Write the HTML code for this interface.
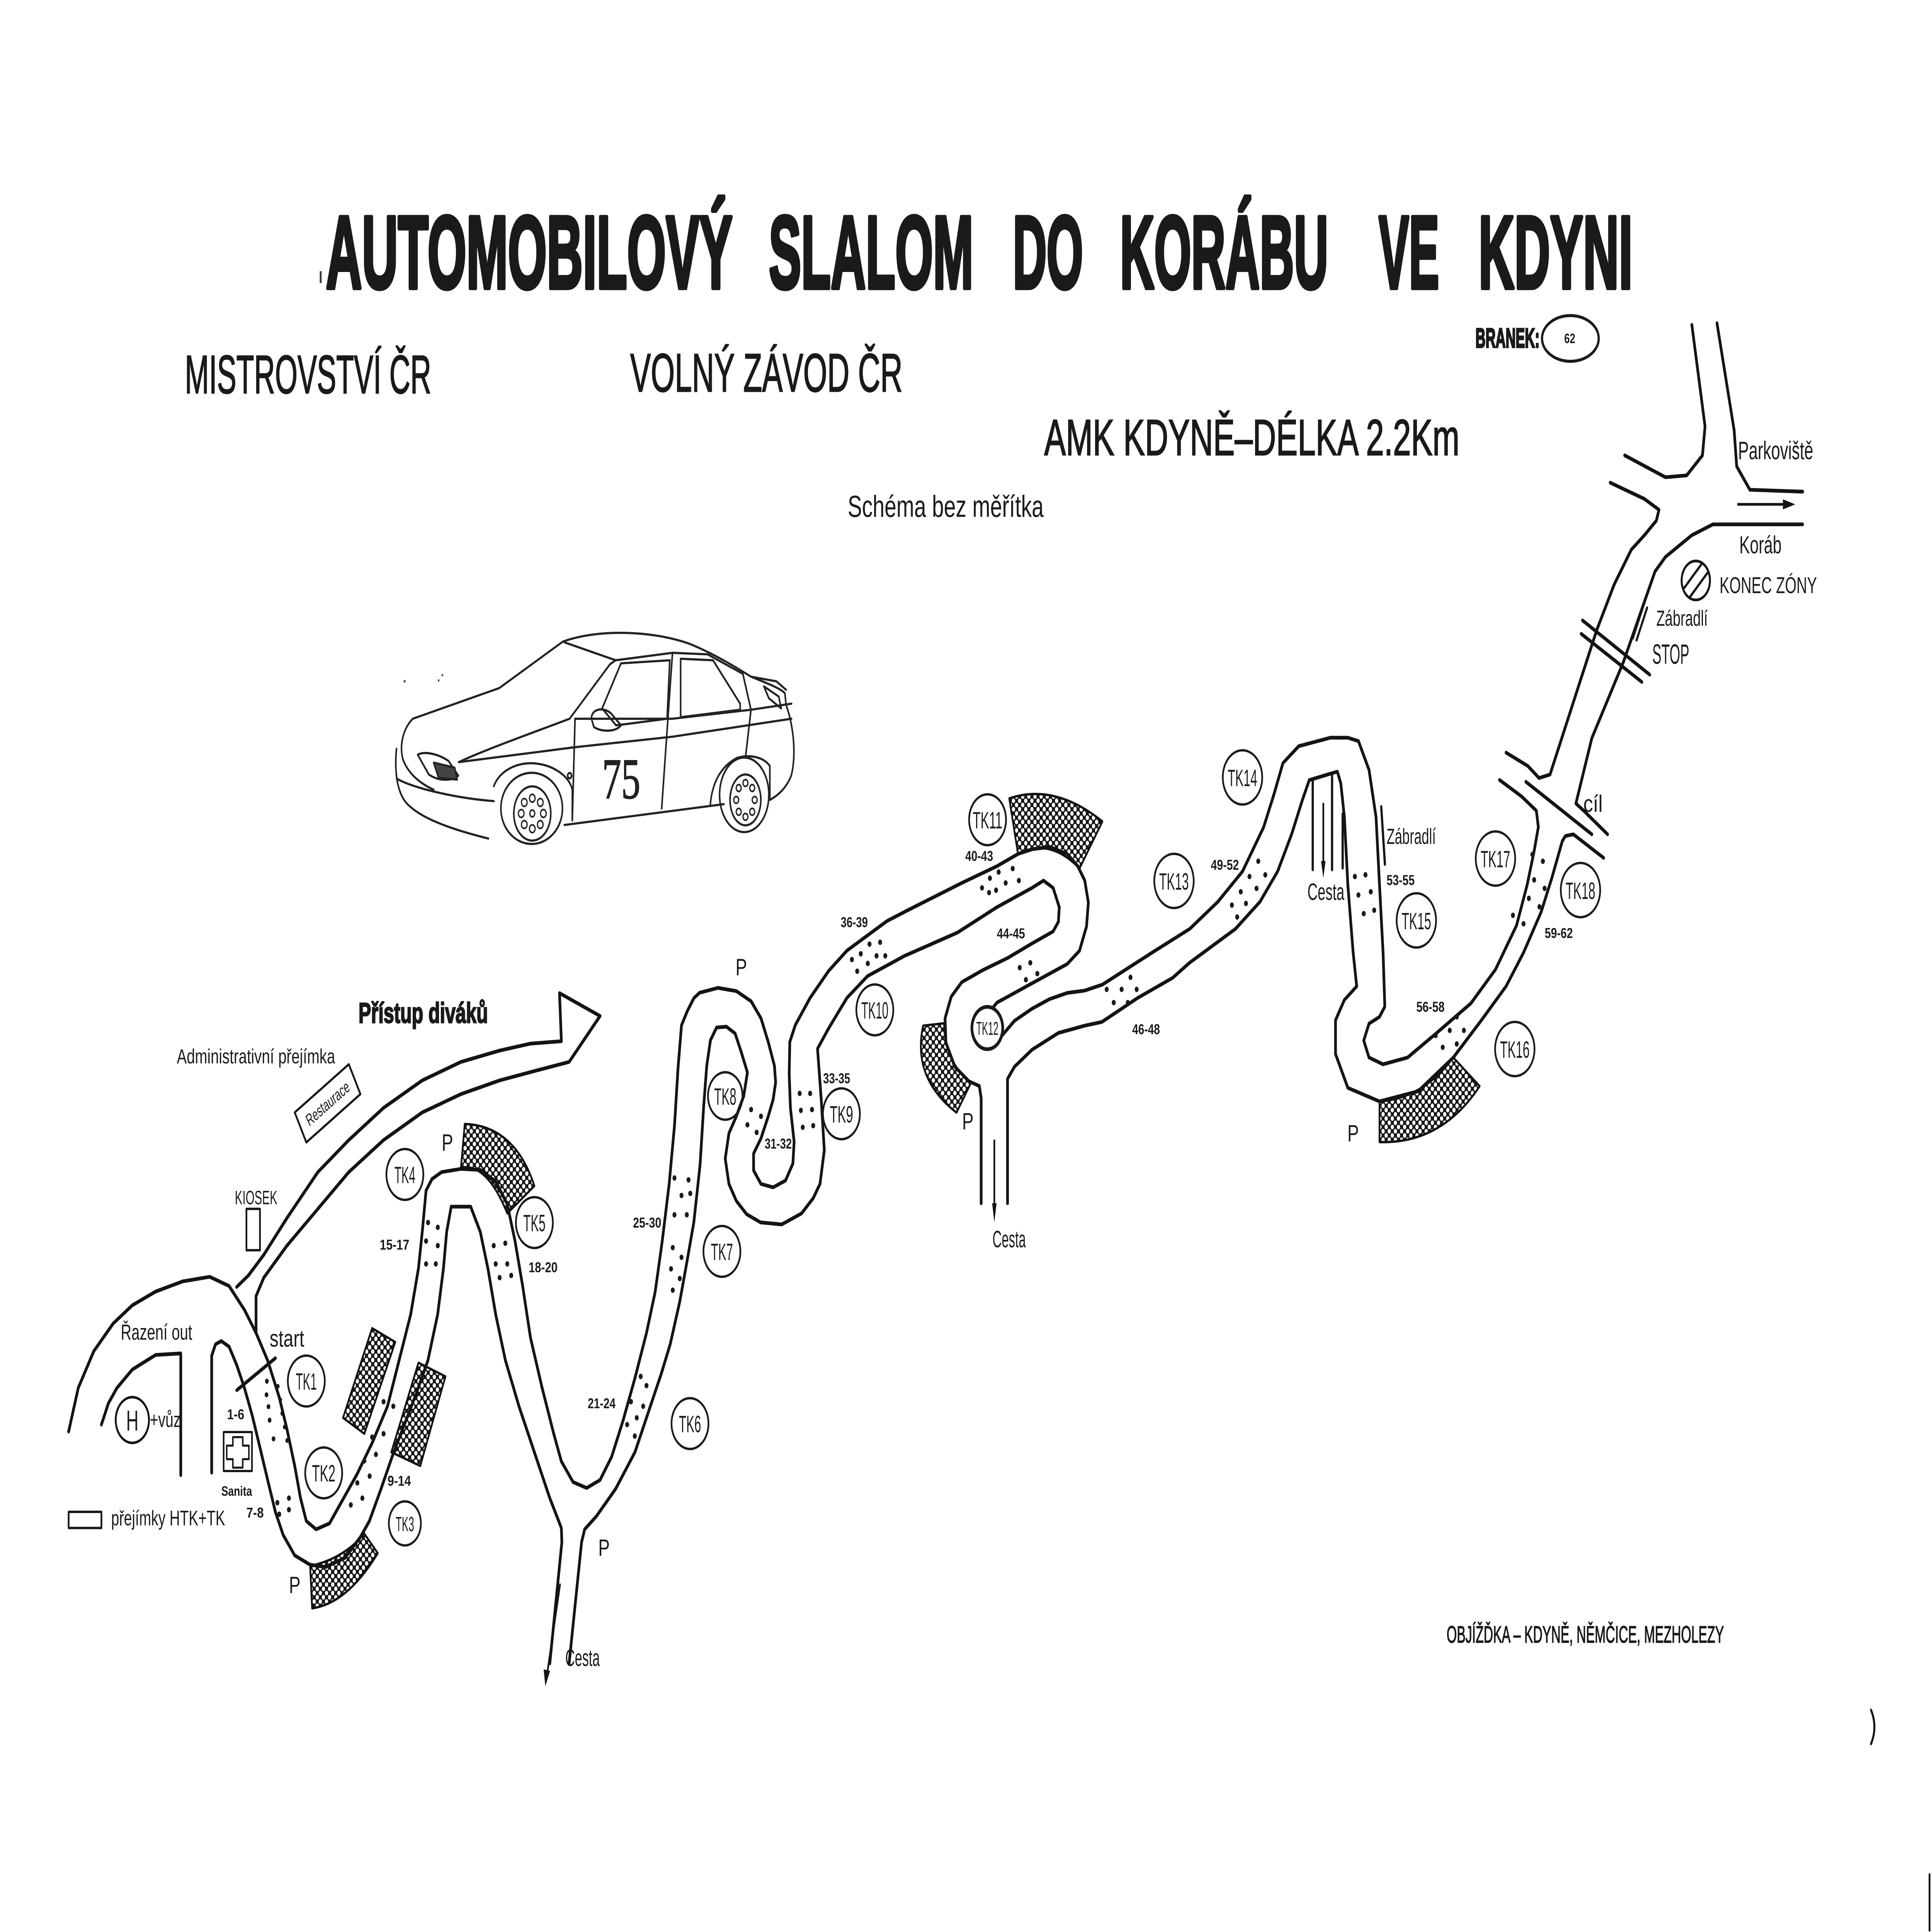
<!DOCTYPE html>
<html>
<head>
<meta charset="utf-8">
<style>
html,body{margin:0;padding:0;background:#fff;width:100%;height:100%;overflow:hidden}
svg{display:block;position:absolute;left:0;top:0;width:100vw;height:100vh}
</style>
</head>
<body>
<svg xmlns="http://www.w3.org/2000/svg" width="7014" height="5100" viewBox="0 0 1568 1140" preserveAspectRatio="none">
<defs>
<pattern id="h" width="5" height="5" patternUnits="userSpaceOnUse">
<rect width="5" height="5" fill="#141414"/>
<circle cx="0" cy="0" r="1.35" fill="#fff"/><circle cx="5" cy="0" r="1.35" fill="#fff"/>
<circle cx="0" cy="5" r="1.35" fill="#fff"/><circle cx="5" cy="5" r="1.35" fill="#fff"/>
<circle cx="2.5" cy="2.5" r="1.35" fill="#fff"/>
</pattern>
<style>
.t{font-family:"Liberation Sans","DejaVu Sans",sans-serif;fill:#1a1a1a}
.tk{font-size:14px;text-anchor:middle}
.g{font-size:8.5px;font-weight:bold}
.p{font-size:14px;text-anchor:middle}
</style>
</defs>
<rect width="1568" height="1140" fill="#fff"/>

<!-- ============ TITLES ============ -->
<g class="t" font-weight="bold" font-size="61" stroke="#1a1a1a" stroke-width="2.4" stroke-linejoin="round">
<text x="264.5" y="170" textLength="330" lengthAdjust="spacingAndGlyphs">AUTOMOBILOVÝ</text>
<text x="624" y="170" textLength="166" lengthAdjust="spacingAndGlyphs">SLALOM</text>
<text x="822" y="170" textLength="57" lengthAdjust="spacingAndGlyphs">DO</text>
<text x="909" y="170" textLength="169" lengthAdjust="spacingAndGlyphs">KORÁBU</text>
<text x="1119" y="170" textLength="49" lengthAdjust="spacingAndGlyphs">VE</text>
<text x="1200" y="170" textLength="125" lengthAdjust="spacingAndGlyphs">KDYNI</text>
</g>
<rect x="259.5" y="160" width="1.5" height="7" fill="#333"/>

<g class="t" stroke="#1a1a1a" stroke-width="0.6">
<text x="150" y="232" font-size="32" textLength="200" lengthAdjust="spacingAndGlyphs">MISTROVSTVÍ ČR</text>
<text x="511.5" y="231" font-size="32" textLength="221" lengthAdjust="spacingAndGlyphs">VOLNÝ ZÁVOD ČR</text>
<text x="847.5" y="268.5" font-size="30" textLength="337" lengthAdjust="spacingAndGlyphs">AMK KDYNĚ–DÉLKA 2.2Km</text>
</g>
<text class="t" x="688" y="305" font-size="18" textLength="159" lengthAdjust="spacingAndGlyphs">Schéma bez měřítka</text>

<text class="t" x="1197.5" y="205" font-size="16" font-weight="bold" stroke="#1a1a1a" stroke-width="0.9" textLength="52" lengthAdjust="spacingAndGlyphs">BRANEK:</text>
<ellipse cx="1274.5" cy="199.7" rx="23" ry="13.5" fill="none" stroke="#1a1a1a" stroke-width="1.8"/>
<text class="t" x="1274" y="202.5" font-size="8" font-weight="bold" text-anchor="middle">62</text>

<!-- ============ CAR ============ -->
<g fill="none" stroke="#222" stroke-width="1.3" stroke-linejoin="round" stroke-linecap="round">
<path d="M405.2,406 L456.8,378.6 C485,371 530,372 560,380 C580,386 598,394 609.5,399.3 C622,403 633,406 637,409 L638,416"/>
<path d="M638,416 C645,430 646,448 642,458 C638,465 632,469 625,472"/>
<path d="M458,379 L499.7,389.6 L495,392 L462.3,424.1"/>
<path d="M405.2,406 L335,424.1 C327,430 324,440 327,448 C331,456 340,462 352,466"/>
<path d="M462.3,424.1 C430,433 395,442 372.3,449.7"/>
<path d="M372.3,449.7 L466.7,440.9 L545.8,434.7 L642.4,424.1"/>
<path d="M466.7,424.1 L545.8,424.1 L609.5,418.8 L642.4,415.2"/>
<path d="M321.8,441.8 C320,455 322,470 333,476 C345,484 370,490 396.4,494.8"/>
<path d="M321.8,459.4 C335,465 370,471 400.8,472.7"/>
<path d="M339,445.3 C345,443 356,445 364,449 L372,457.7 C366,461 356,461 348,457 Z"/>
<path d="M352,450 L369,453 L371,460 L356,459 Z" fill="#444"/>
<path d="M400.8,463.9 C405,455 420,449 436,450.6 C450,452 462,458 464.5,466 L464.5,484.2"/>
<path d="M458,486.8 L587.5,474.5"/>
<path d="M576.5,474.5 C578,462 585,452 598.5,447.1 C610,445 620,447 624.8,452 L624.8,471.8"/>
<path d="M466.7,424.1 L464.5,483.3 M545.8,385.2 L537,477.1 M609.5,418.8 L605,447.1"/>
<path d="M499.7,389.6 L545.8,385.2 L574.3,386.1 L602.9,397.6 L609.5,418.8"/>
<path d="M504,391.4 L543.6,389.6 L541.4,424.1 L500,428 L488.7,418 Z"/>
<path d="M552.4,388.7 L578.7,389.6 L600.7,415.2 L600.7,418.8 L552.4,423.2 Z"/>
<path d="M480,424 C480,418 490,417 496,421 L504,428 C500,432 488,432 482,429 Z"/>
<path d="M609.5,399.3 L630,402 L638,407 M620,405 L632,411 L634,418 L624,412 Z"/>
<circle cx="462.3" cy="457.7" r="1.6"/>
<ellipse cx="431.5" cy="477" rx="25" ry="21"/>
<ellipse cx="432" cy="480" rx="15" ry="16"/>
<ellipse cx="604" cy="469" rx="20" ry="22"/>
<ellipse cx="605" cy="472" rx="12.5" ry="15"/>
<g stroke-width="1">
<circle cx="432" cy="471" r="2.3"/><circle cx="438.5" cy="473.5" r="2.3"/><circle cx="441" cy="480" r="2.3"/><circle cx="438.5" cy="486.5" r="2.3"/><circle cx="432" cy="489" r="2.3"/><circle cx="425.5" cy="486.5" r="2.3"/><circle cx="423" cy="480" r="2.3"/><circle cx="425.5" cy="473.5" r="2.3"/><circle cx="432" cy="480" r="2"/>
<circle cx="605" cy="462" r="2"/><circle cx="610.5" cy="465" r="2"/><circle cx="612.5" cy="472" r="2"/><circle cx="610.5" cy="479" r="2"/><circle cx="605" cy="482" r="2"/><circle cx="599.5" cy="479" r="2"/><circle cx="597.5" cy="472" r="2"/><circle cx="599.5" cy="465" r="2"/>
</g>
</g>
<text x="488.7" y="471" font-family="'Liberation Serif','DejaVu Serif',serif" font-size="34" fill="#222" stroke="#222" stroke-width="0.5" textLength="31" lengthAdjust="spacingAndGlyphs">75</text>
<circle cx="328.4" cy="402" r="0.8" fill="#444"/><circle cx="359" cy="398.4" r="0.7" fill="#444"/><circle cx="356" cy="401.5" r="0.7" fill="#444"/>

<!-- ============ HATCHED AREAS ============ -->
<g fill="url(#h)" stroke="#111" stroke-width="1.4" stroke-linejoin="round">
<path d="M251.7,924 L253.3,949 Q282,946 306.6,916.5 L295.7,905 Q278,920 251.7,924 Z"/>
<path d="M374.1,689 Q395,686 411.7,716 L433.7,699.8 C425,680 408,664 377.2,663.2 Z"/>
<path d="M278.4,836.6 L295.7,846 L320.8,791.9 L302,783.7 Z"/>
<path d="M317.6,856.9 L341.1,865 L361.5,812.2 L339.6,804.1 Z"/>
<path d="M819.1,471.1 Q856,462 894.7,484.7 L876.1,512.5 Q852,494 826.2,503.9 Z"/>
<path d="M749.2,605.2 Q740,636 776.3,656.5 L787.7,639.4 Q766,625 766.3,603.8 Z"/>
<path d="M1119.6,673.9 Q1170,675 1200.9,640.9 L1179.5,624 Q1155,648 1119.6,649.9 Z"/>
</g>

<!-- ============ ROADS ============ -->
<g fill="none" stroke="#141414" stroke-width="2.2" stroke-linejoin="round" stroke-linecap="round">
<path d="M55.7,844.7 L63.5,819 L76.1,797.3 L91.8,781 L107.4,770.2 L126.3,762.1 L148.2,756.1 L170.2,753.4 L185.9,758.8 L198.4,772.9 L207.8,786.5 L217.2,802.7 L226.6,824.4 L232.9,843.3 L239.2,865 L243.9,884 L248.6,897.5 L256.5,902.4 L267.4,898.9 L276.8,886.7 L289.4,870.4 L302,851.5 L314.5,829.8 L323.9,802.7 L333.3,775.6 L339.6,748.5 L342.7,726.9 L345.8,702.5 L350.6,695.7 L358.4,691.6 L374.1,689.7 L389.8,690.3 L402.3,697.1 L411.7,710.6 L418,732.3 L424.3,759.4 L430.5,789.2 L440,819 L449.4,846 L455.6,862.3 L465.1,874.5 L476.1,878 L487,873.3 L496.4,859.6 L505.8,837.9 L515.2,813.5 L524.7,786.5 L531.7,762.4 L537.4,732.7 L543.1,698.5 L547.4,664.3 L550.3,630.1 L553.1,605 L557.7,596.8 L563.1,589 L567.7,585.8 L582.6,582.9 L597.6,584.8 L609.6,590.8 L617.6,600.8 L623.5,614.8 L628.5,628.8 L629.5,638.7 L627.5,648.7 L623.5,658.7 L617.6,671.7 L611.6,680.7 L611.6,690.6 L617.6,698.6 L627.5,700.6 L637.5,696.6 L643.5,686.6 L644.5,673.7 L641.5,653.7 L640.5,633.7 L641,614.8 L645.5,604.8 L657.5,588.8 L672.5,572.9 L687.4,560.9 L720,543.4 L737.8,536.7 L780.6,521 L809.1,511.1 L826.2,503.9 L837.6,501.1 L851.9,499.7 L866.2,503.9 L874.7,511.1 L880.4,519.6 L883.3,532.5 L881.8,546.7 L876.1,561 L866.2,568.8 L851.9,574.5 L837.6,580.2 L823.4,585.9 L809.1,591.6 L806,594.5"/>
<path d="M813.4,610.9 L823.4,602.3 L837.6,595.2 L851.9,589.5 L866.2,585.9 L880.4,584.5 L894.7,581 L916,571 L937.4,561 L965.6,548.1 L988.4,532.1 L1008.4,514.2 L1025.5,488.2 L1034.1,468.3 L1041.2,450.3 L1054,440.3 L1079.7,435.3 L1093.9,435.3 L1102.5,437.3 L1111.1,454.3 L1116.8,482.2 L1119.6,522.2 L1122.5,562.1 L1123.9,594 L1119.6,600 L1111.1,604 L1106.8,614 L1111.1,624 L1122.5,628 L1142.4,624 L1165.2,610 L1193.8,592 L1213.7,572.1 L1230.8,546.1 L1239.4,522.2 L1245.1,502.2 L1248.5,488"/>
<path d="M1222.3,444.1 L1240,452 L1249.1,459.1 L1258,457 L1270,430 L1283.3,400 L1296.1,371.4 L1310,345 L1323.9,324.4 L1334.6,315.8 L1344.3,307.2 L1346.4,300.8 L1334.6,294.4 L1306.8,284.8"/>
<path d="M1217,460.2 L1235,470 L1246.9,478.4 L1248.5,488"/>
<path d="M171.8,869 L171.8,800 L174.9,793.2 L179.6,791.3 L185.9,794.6 L192.1,805.4 L198.4,819 L204.7,835.2 L211,854.2 L217.2,873.2 L223.5,892.1 L229.8,905.7 L239.2,917.8 L251.7,923.3 L264.3,924.6 L280,919.2 L292.5,907 L299.8,897.5 L309.2,878.6 L319,858 L328.5,840 L338,822 L347.3,802.7 L355.2,775.6 L359.9,748.5 L362.5,726.9 L366.2,712 L382,712 L389.8,726.9 L396,748.5 L402.3,775.6 L410.2,802.7 L421.2,829.8 L433.7,856.9 L446.2,884 L455.6,901.6 L456,910 L446.2,981.5"/>
<path d="M461.9,981.5 L472,910 L474.5,902.4 L483.9,894.8 L499.6,878.6 L515.3,856.9 L527.8,829.8 L536.6,810.8 L544,793 L551.7,768 L557.4,745 L563.1,721.3 L568.2,687.1 L571.1,652.9 L573.6,628.8 L576.6,613.8 L581.6,606.3 L589.6,605.8 L596.6,609.8 L601.6,620.8 L606.6,632.8 L603.6,646.7 L597.6,658.7 L591.6,668.7 L588.6,683.7 L591.6,698.6 L597.6,708.6 L606,716.5 L617.3,721.3 L634.4,722.5 L650.5,716 L660,707 L665.5,698.6 L669,678.7 L666.5,648.7 L663.5,618.8 L672.5,606.8 L687.4,588.8 L704.2,575.9 L734.2,564 L777,550.3 L809.1,535.3 L837.6,523.9 L846.9,519.6 L854.7,523.9 L859.7,535.3 L859,543.9 L854.7,549.6 L837.6,556.7 L817.7,565.3 L797.7,572.4 L780.6,579.5 L772,588.1 L767,600.9 L767.7,615.2 L774.9,629.4 L786.3,638 L794.8,640.8 L796.3,648 L796.3,710"/>
<path d="M817.7,710 L817.7,636.6 L823.4,629.4 L837.6,619.4 L859,609.5 L880.4,605.2 L894.3,603 L923,589 L951.7,577 L965.6,568 L1002.7,548.1 L1022.6,532.1 L1036.9,514.2 L1048.3,492.2 L1056.9,472.3 L1062.6,460.3 L1085.4,455.3 L1088.2,462.3 L1091.1,482.2 L1093.9,522.2 L1098.2,562.1 L1101.1,582 L1091.1,590 L1083.9,602 L1083.9,621.9 L1093.9,641.9 L1119.6,649.9 L1151,643.9 L1179.5,624 L1202.3,602 L1222.3,582 L1236.5,562.1 L1250.8,538.1 L1259.4,518.2 L1268,496.2 L1270.5,493.3 L1276.9,492.3 L1301.5,506.2"/>
<path d="M1304.7,492.3 L1285.4,478.4 L1279,474.1 L1291.9,435.6 L1317.5,390.7 L1343.2,337.2 L1351.7,328.6 L1373.1,315.8 L1390.2,309.4 L1463,309.4"/>
<path d="M1318.6,268.7 L1351.7,281.6 L1368.9,280.5 L1381.7,268.7 L1383.8,251.6 L1373.1,191.7"/>
<path d="M1393.5,190.7 L1407.4,253.8 L1409.5,275.2 L1420.2,289 L1463,290.1"/>
<path d="M82.3,840.6 L88,828 L94.9,819 L107.4,808.1 L126.3,799.5 L146.7,798.6 L146.7,870.4"/>
<path d="M192.1,759.4 L201.6,752.6 L214.1,740.4 L232.9,718.7 L258,691.6 L283.1,672.7 L311.3,653.7 L342.7,637.5 L374.1,626.6 L405.5,619.9 L430.5,615.8 L455.6,614.4 L454.1,586 L487,599.5 L461.9,626.6 L433.7,632 L405.5,637.5 L374.1,645.6 L342.7,656.4 L311.3,672.7 L283.1,691.6 L258,713.3 L232.9,735 L214.1,753.9 L207.8,764.8 L207.8,786.5"/>
<path d="M192.2,820.3 L223.5,801.4"/>
<path d="M1238.4,461.3 L1291.9,492.3"/>
<path d="M1284.4,366.1 L1338.9,398.1"/>
<path d="M1283.3,374 L1332.5,402.4"/>
<path d="M1336.8,358.6 L1328.2,377.8" stroke-width="1.6"/>
<path d="M1333.8,357.4 L1325.2,376.6" stroke-width="1.6"/>
<path d="M1121,476 L1124,510" stroke-width="1.8"/>
<path d="M1065.4,460.3 L1065.4,513.2 M1081.1,456.3 L1081.1,513.2 M1089.7,480.2 L1089.7,512.2" stroke-width="1.8"/>
<path d="M454.5,935 L444,988" stroke-width="1.4"/>
<path d="M807,673 L807,712" stroke-width="1.4"/>
<path d="M1074,474.3 L1074,510" stroke-width="1.4"/>
<path d="M1410.6,297.6 L1449,297.6" stroke-width="1.6"/>
<rect x="200" y="713.3" width="11" height="24.4" stroke-width="1.4"/>
<rect x="55.7" y="892.1" width="26.6" height="9.5" stroke-width="1.4"/>
<path d="M239.2,656.4 L283.1,628 L292.5,645.6 L248.6,674.1 Z" stroke-width="1.4"/>
<rect x="181.5" y="845" width="23" height="23" stroke-width="1.3"/>
<path d="M189,848 L197,848 L197,853 L202,853 L202,861 L197,861 L197,866 L189,866 L189,861 L184,861 L184,853 L189,853 Z" stroke-width="1.2"/>
<circle cx="107.4" cy="837.9" r="13.5" stroke-width="1.5"/>
<circle cx="1376.3" cy="342.5" r="11.5" stroke-width="1.6"/>
<path d="M1366.8,347 L1380.8,333 M1371.8,352 L1385.8,338" stroke-width="1.6"/>
<path d="M1518.5,1009 Q1524,1019 1518.5,1029" stroke-width="1.6"/>
<path d="M1566,1106 L1566,1139" stroke-width="1.5"/>
</g>
<g fill="#141414">
<path d="M441.2,985 L446.4,986 L442.6,995 Z"/>
<path d="M805.2,710 L808.8,710 L807,721.3 Z"/>
<path d="M1072.2,508 L1075.8,508 L1074,518.2 Z"/>
<path d="M1447,294.6 L1457,297.6 L1447,300.6 Z"/>
</g>

<!-- ============ TK CIRCLES ============ -->
<g fill="#fff" stroke="#1a1a1a" stroke-width="1.4">
<circle cx="248.6" cy="814.9" r="15"/>
<circle cx="262.7" cy="869.1" r="15"/>
<circle cx="328.6" cy="898.9" r="13"/>
<circle cx="328.6" cy="693" r="15"/>
<circle cx="433.7" cy="721.4" r="15"/>
<circle cx="560" cy="840" r="15"/>
<circle cx="585.9" cy="738.4" r="15"/>
<circle cx="588.6" cy="646.7" r="14" fill="none"/>
<circle cx="682.9" cy="657.2" r="15"/>
<circle cx="710" cy="595.9" r="15"/>
<circle cx="801.5" cy="483.7" r="15"/>
<circle cx="801.3" cy="606.6" r="12.5" stroke-width="2.2"/>
<circle cx="952.8" cy="519.8" r="16"/>
<circle cx="1008.4" cy="458.7" r="16"/>
<circle cx="1149.5" cy="543.1" r="16"/>
<circle cx="1229.4" cy="619" r="16"/>
<circle cx="1213.7" cy="506.6" r="16"/>
<circle cx="1282.7" cy="525.2" r="16"/>
</g>
<g class="t tk">
<text x="248.6" y="820" textLength="17" lengthAdjust="spacingAndGlyphs">TK1</text>
<text x="262.7" y="874.2" textLength="19" lengthAdjust="spacingAndGlyphs">TK2</text>
<text x="328.6" y="903.5" font-size="12" textLength="15" lengthAdjust="spacingAndGlyphs">TK3</text>
<text x="328.6" y="698.1" textLength="17" lengthAdjust="spacingAndGlyphs">TK4</text>
<text x="433.7" y="726.5" textLength="18" lengthAdjust="spacingAndGlyphs">TK5</text>
<text x="560" y="845.1" textLength="18" lengthAdjust="spacingAndGlyphs">TK6</text>
<text x="585.9" y="743.5" textLength="18" lengthAdjust="spacingAndGlyphs">TK7</text>
<text x="588.6" y="651.8" textLength="18" lengthAdjust="spacingAndGlyphs">TK8</text>
<text x="682.9" y="662.3" textLength="19" lengthAdjust="spacingAndGlyphs">TK9</text>
<text x="710" y="601" textLength="22" lengthAdjust="spacingAndGlyphs">TK10</text>
<text x="801.5" y="488.8" textLength="24" lengthAdjust="spacingAndGlyphs">TK11</text>
<text x="801.3" y="610.6" font-size="11" textLength="18" lengthAdjust="spacingAndGlyphs">TK12</text>
<text x="952.8" y="525" textLength="24" lengthAdjust="spacingAndGlyphs">TK13</text>
<text x="1008.4" y="463.9" textLength="24" lengthAdjust="spacingAndGlyphs">TK14</text>
<text x="1149.5" y="548.3" textLength="24" lengthAdjust="spacingAndGlyphs">TK15</text>
<text x="1229.4" y="624.2" textLength="24" lengthAdjust="spacingAndGlyphs">TK16</text>
<text x="1213.7" y="511.8" textLength="24" lengthAdjust="spacingAndGlyphs">TK17</text>
<text x="1282.7" y="530.4" textLength="24" lengthAdjust="spacingAndGlyphs">TK18</text>
</g>

<!-- ============ GATE DOTS ============ -->
<g fill="#1a1a1a">
<circle cx="216.6" cy="815" r="1.5"/><circle cx="216.3" cy="823" r="1.5"/><circle cx="217.9" cy="830" r="1.5"/><circle cx="218.8" cy="838" r="1.5"/><circle cx="222" cy="849" r="1.5"/>
<circle cx="225.5" cy="818" r="1.4"/><circle cx="227.5" cy="826" r="1.4"/><circle cx="229" cy="834" r="1.4"/><circle cx="231" cy="842" r="1.4"/><circle cx="233" cy="850" r="1.4"/>
<circle cx="225.1" cy="886.7" r="1.6"/><circle cx="234.5" cy="884" r="1.6"/><circle cx="226.6" cy="893.5" r="1.6"/><circle cx="234.5" cy="890.8" r="1.6"/>
<circle cx="284.7" cy="888" r="1.6"/><circle cx="290" cy="875" r="1.6"/><circle cx="295.7" cy="862" r="1.6"/><circle cx="302" cy="848" r="1.6"/><circle cx="311.3" cy="827.1" r="1.6"/>
<circle cx="294.1" cy="884" r="1.6"/><circle cx="300" cy="871" r="1.6"/><circle cx="305.1" cy="858.2" r="1.6"/><circle cx="311.3" cy="846" r="1.6"/><circle cx="319.2" cy="829.8" r="1.6"/>
<circle cx="347.4" cy="721.4" r="1.6"/><circle cx="355.3" cy="724.2" r="1.6"/><circle cx="345.8" cy="732.3" r="1.6"/><circle cx="355.3" cy="735" r="1.6"/><circle cx="345.8" cy="745.8" r="1.6"/><circle cx="353.7" cy="745.8" r="1.6"/>
<circle cx="400.7" cy="735" r="1.6"/><circle cx="410.1" cy="733.6" r="1.6"/><circle cx="402.3" cy="745.8" r="1.6"/><circle cx="411.7" cy="745.8" r="1.6"/><circle cx="405.5" cy="753.9" r="1.6"/><circle cx="414.9" cy="752.6" r="1.6"/>
<circle cx="520" cy="812.2" r="1.6"/><circle cx="524.7" cy="817.6" r="1.6"/><circle cx="512.1" cy="827.1" r="1.6"/><circle cx="522" cy="829.8" r="1.6"/><circle cx="509" cy="840.6" r="1.6"/><circle cx="516.8" cy="836.6" r="1.6"/><circle cx="515.2" cy="847.4" r="1.6"/>
<circle cx="547.4" cy="695.1" r="1.6"/><circle cx="558.8" cy="696.2" r="1.6"/><circle cx="553.1" cy="705.4" r="1.6"/><circle cx="560.2" cy="704.2" r="1.6"/><circle cx="547.4" cy="716.8" r="1.6"/><circle cx="557.4" cy="716.8" r="1.6"/><circle cx="546" cy="736.2" r="1.6"/><circle cx="553.1" cy="741.9" r="1.6"/><circle cx="544.6" cy="748.7" r="1.6"/><circle cx="551.7" cy="754.4" r="1.6"/><circle cx="546" cy="761.3" r="1.6"/>
<circle cx="609.6" cy="654.7" r="1.6"/><circle cx="617.6" cy="658.7" r="1.6"/><circle cx="606.6" cy="663.7" r="1.6"/><circle cx="614.1" cy="668.2" r="1.6"/>
<circle cx="649" cy="645.2" r="1.6"/><circle cx="657.5" cy="645.2" r="1.6"/><circle cx="650" cy="655.2" r="1.6"/><circle cx="659" cy="654.7" r="1.6"/><circle cx="651.5" cy="665.2" r="1.6"/><circle cx="660" cy="664.2" r="1.6"/>
<circle cx="691.4" cy="566.2" r="1.6"/><circle cx="698.6" cy="562.8" r="1.6"/><circle cx="705.7" cy="557.1" r="1.6"/><circle cx="714.3" cy="556" r="1.6"/><circle cx="695.7" cy="573.1" r="1.6"/><circle cx="704.3" cy="568.5" r="1.6"/><circle cx="711.4" cy="564" r="1.6"/><circle cx="718.5" cy="564" r="1.6"/>
<circle cx="810.5" cy="514.6" r="1.6"/><circle cx="821.9" cy="512.5" r="1.6"/><circle cx="803.4" cy="518.2" r="1.6"/><circle cx="816.2" cy="521" r="1.6"/><circle cx="826.9" cy="519.6" r="1.6"/><circle cx="797" cy="523.9" r="1.6"/><circle cx="808.4" cy="525.3" r="1.6"/><circle cx="802.7" cy="526.7" r="1.6"/>
<circle cx="827.6" cy="571" r="1.6"/><circle cx="836.2" cy="568.1" r="1.6"/><circle cx="832.6" cy="578.1" r="1.6"/><circle cx="841.9" cy="574.5" r="1.6"/>
<circle cx="898.2" cy="583.8" r="1.6"/><circle cx="910.3" cy="583.8" r="1.6"/><circle cx="922.5" cy="583.8" r="1.6"/><circle cx="917.5" cy="576.7" r="1.6"/><circle cx="903.9" cy="591.6" r="1.6"/><circle cx="915.3" cy="591.6" r="1.6"/>
<circle cx="1021.2" cy="508.2" r="1.6"/><circle cx="1026.9" cy="516.2" r="1.6"/><circle cx="1014.1" cy="517.2" r="1.6"/><circle cx="1019.8" cy="524.2" r="1.6"/><circle cx="1007" cy="526.2" r="1.6"/><circle cx="1011.2" cy="533.1" r="1.6"/><circle cx="999.8" cy="534.1" r="1.6"/><circle cx="1004.1" cy="541.1" r="1.6"/>
<circle cx="1099.6" cy="517.2" r="1.6"/><circle cx="1108.2" cy="516.2" r="1.6"/><circle cx="1102.5" cy="528.1" r="1.6"/><circle cx="1112.5" cy="526.2" r="1.6"/><circle cx="1106.8" cy="539.1" r="1.6"/><circle cx="1115.3" cy="537.1" r="1.6"/>
<circle cx="1182.3" cy="600" r="1.6"/><circle cx="1165.2" cy="611" r="1.6"/><circle cx="1176.6" cy="608" r="1.6"/><circle cx="1188.1" cy="608" r="1.6"/><circle cx="1170.9" cy="618" r="1.6"/><circle cx="1182.3" cy="616" r="1.6"/>
<circle cx="1243.7" cy="504.2" r="1.6"/><circle cx="1252.2" cy="508.2" r="1.6"/><circle cx="1245.1" cy="519.2" r="1.6"/><circle cx="1253.6" cy="524.2" r="1.6"/><circle cx="1240.8" cy="530.1" r="1.6"/><circle cx="1249.4" cy="535.1" r="1.6"/><circle cx="1236.5" cy="545.1" r="1.6"/><circle cx="1227.9" cy="540.1" r="1.6"/>
</g>

<!-- ============ GATE LABELS ============ -->
<g class="t g">
<text x="184.3" y="837.5" textLength="14" lengthAdjust="spacingAndGlyphs">1-6</text>
<text x="200" y="895.5" textLength="14" lengthAdjust="spacingAndGlyphs">7-8</text>
<text x="314.5" y="876.7" textLength="19" lengthAdjust="spacingAndGlyphs">9-14</text>
<text x="308.2" y="737.4" textLength="24" lengthAdjust="spacingAndGlyphs">15-17</text>
<text x="429" y="750.7" textLength="23.5" lengthAdjust="spacingAndGlyphs">18-20</text>
<text x="477" y="830.9" textLength="22.6" lengthAdjust="spacingAndGlyphs">21-24</text>
<text x="513.7" y="724.4" textLength="23" lengthAdjust="spacingAndGlyphs">25-30</text>
<text x="620.6" y="677.7" textLength="22" lengthAdjust="spacingAndGlyphs">31-32</text>
<text x="668" y="639.2" textLength="22" lengthAdjust="spacingAndGlyphs">33-35</text>
<text x="682.3" y="547.1" textLength="22" lengthAdjust="spacingAndGlyphs">36-39</text>
<text x="783.4" y="508" textLength="22.6" lengthAdjust="spacingAndGlyphs">40-43</text>
<text x="809.1" y="553.7" textLength="22.8" lengthAdjust="spacingAndGlyphs">44-45</text>
<text x="918.9" y="610.3" textLength="22.5" lengthAdjust="spacingAndGlyphs">46-48</text>
<text x="982.7" y="513.2" textLength="22.8" lengthAdjust="spacingAndGlyphs">49-52</text>
<text x="1125.3" y="522.2" textLength="22.8" lengthAdjust="spacingAndGlyphs">53-55</text>
<text x="1149.5" y="597" textLength="22.9" lengthAdjust="spacingAndGlyphs">56-58</text>
<text x="1253.7" y="553.5" textLength="22.8" lengthAdjust="spacingAndGlyphs">59-62</text>
</g>

<!-- ============ P LABELS ============ -->
<g class="t p">
<text x="363.1" y="679">P</text>
<text x="239.2" y="940">P</text>
<text x="490.2" y="918">P</text>
<text x="601.6" y="575.5">P</text>
<text x="785.5" y="666.5">P</text>
<text x="1098.2" y="673.5">P</text>
</g>

<!-- ============ OTHER LABELS ============ -->
<g class="t">
<text x="291" y="603.5" font-size="17" font-weight="bold" stroke="#1a1a1a" stroke-width="0.7" textLength="105" lengthAdjust="spacingAndGlyphs">Přístup diváků</text>
<text x="143.5" y="627.5" font-size="12" textLength="128.5" lengthAdjust="spacingAndGlyphs">Administrativní přejímka</text>
<text x="265.9" y="654.5" font-size="10" text-anchor="middle" textLength="40" lengthAdjust="spacingAndGlyphs" transform="rotate(-33 265.9 651)">Restaurace</text>
<text x="190.6" y="710.6" font-size="11.5" textLength="34.5" lengthAdjust="spacingAndGlyphs">KIOSEK</text>
<text x="98" y="790.5" font-size="13" textLength="58" lengthAdjust="spacingAndGlyphs">Řazení out</text>
<text x="218.8" y="794.6" font-size="14" textLength="28.2" lengthAdjust="spacingAndGlyphs">start</text>
<text x="107.4" y="844" font-size="17" text-anchor="middle" textLength="10" lengthAdjust="spacingAndGlyphs">H</text>
<text x="121.6" y="842" font-size="12.5" textLength="25" lengthAdjust="spacingAndGlyphs">+vůz</text>
<text x="179.6" y="882.6" font-size="8" font-weight="bold" textLength="25" lengthAdjust="spacingAndGlyphs">Sanita</text>
<text x="90.2" y="900" font-size="12.5" textLength="92.5" lengthAdjust="spacingAndGlyphs">přejímky HTK+TK</text>
<text x="458.8" y="983" font-size="14" textLength="28" lengthAdjust="spacingAndGlyphs">Cesta</text>
<text x="805.5" y="736" font-size="14" textLength="27" lengthAdjust="spacingAndGlyphs">Cesta</text>
<text x="1061.1" y="531" font-size="14" textLength="30" lengthAdjust="spacingAndGlyphs">Cesta</text>
<text x="1125.3" y="498" font-size="13" textLength="40" lengthAdjust="spacingAndGlyphs">Zábradlí</text>
<text x="1285" y="479" font-size="14" textLength="15.7" lengthAdjust="spacingAndGlyphs">cíl</text>
<text x="1410.6" y="271" font-size="15" textLength="61" lengthAdjust="spacingAndGlyphs">Parkoviště</text>
<text x="1411.6" y="326.5" font-size="14.5" textLength="34.3" lengthAdjust="spacingAndGlyphs">Koráb</text>
<text x="1395.6" y="350" font-size="13.5" textLength="79" lengthAdjust="spacingAndGlyphs">KONEC ZÓNY</text>
<text x="1344.3" y="369.3" font-size="13" textLength="41.7" lengthAdjust="spacingAndGlyphs">Zábradlí</text>
<text x="1341" y="391.7" font-size="16.5" textLength="30" lengthAdjust="spacingAndGlyphs">STOP</text>
<text x="1174.1" y="969.2" font-size="14" stroke="#1a1a1a" stroke-width="0.4" textLength="225" lengthAdjust="spacingAndGlyphs">OBJÍŽĎKA – KDYNĚ, NĚMČICE, MEZHOLEZY</text>
</g>
</svg>
</body>
</html>
